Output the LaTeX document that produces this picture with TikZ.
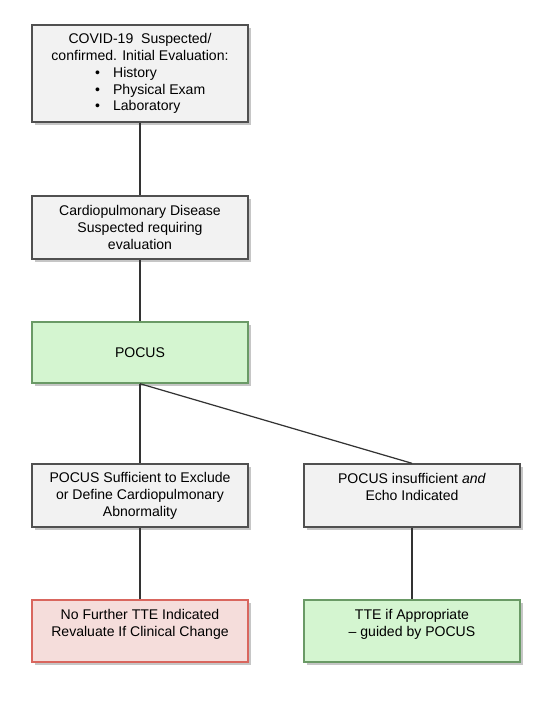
\documentclass[tikz,border=0pt]{standalone}
\usepackage{fontspec}
\setmainfont{Liberation Sans}
\usepackage{xcolor}
\usepackage{tikz}
\usetikzlibrary{shapes,shadows,positioning,calc}

\definecolor{boxgray}{HTML}{F2F2F2}
\definecolor{edgegray}{HTML}{505050}
\definecolor{pocusgreen}{HTML}{D4F5D0}
\definecolor{pocusedge}{HTML}{6A9A66}
\definecolor{stopred}{HTML}{F5DDDB}
\definecolor{stopedge}{HTML}{D9665E}

\tikzset{
  flowbox/.style={draw=edgegray,fill=boxgray,line width=0.8pt,
    minimum width=216*0.02cm,align=center,inner sep=2pt,
    font=\fontsize{8}{9.6}\selectfont,
    drop shadow={shadow xshift=1.5pt,shadow yshift=-1.5pt,opacity=0.45,fill=gray}},
  greenbox/.style={flowbox,draw=pocusedge,fill=pocusgreen},
  redbox/.style={flowbox,draw=stopedge,fill=stopred},
  link/.style={draw=black!80,line width=0.7pt}
}
\newcommand{\bulletline}[1]{\makebox[51pt][l]{\makebox[10.2pt][l]{\textbullet}#1}}

\begin{document}
\begin{tikzpicture}[x=0.02cm,y=-0.02cm]
\useasboundingbox (0,0) rectangle (543,711);
% Boxes
\node[flowbox,minimum height=97*0.02cm] (covid) at (140,73.5)
  {COVID-19\ \ Suspected/\\confirmed. Initial Evaluation:\\
   \bulletline{History}\\\bulletline{Physical Exam}\\\bulletline{Laboratory}};
\node[flowbox,minimum height=63*0.02cm] (cardio) at (140,227.5)
  {Cardiopulmonary Disease\\Suspected requiring\\evaluation};
\node[greenbox,minimum height=61*0.02cm] (pocus) at (140,352.5) {POCUS};
\node[flowbox,minimum height=63*0.02cm] (suff) at (140,495.5)
  {POCUS Sufficient to Exclude\\or Define Cardiopulmonary\\Abnormality};
\node[flowbox,minimum height=63*0.02cm] (insuff) at (412,495.5)
  {POCUS insufficient \textit{and}\\Echo Indicated\\\mbox{}};
\node[redbox,minimum height=62*0.02cm] (nofurther) at (140,631)
  {No Further TTE Indicated\\Revaluate If Clinical Change\\\mbox{}};
\node[greenbox,minimum height=62*0.02cm] (tte) at (412,631)
  {TTE if Appropriate\\-- guided by POCUS\\\mbox{}};
% Connections
\draw[link] (covid) -- (cardio);
\draw[link] (cardio) -- (pocus);
\draw[link] (pocus) -- (suff);
\draw[link] (pocus.south) -- (insuff.north);
\draw[link] (suff) -- (nofurther);
\draw[link] (insuff) -- (tte);
\end{tikzpicture}
\end{document}
